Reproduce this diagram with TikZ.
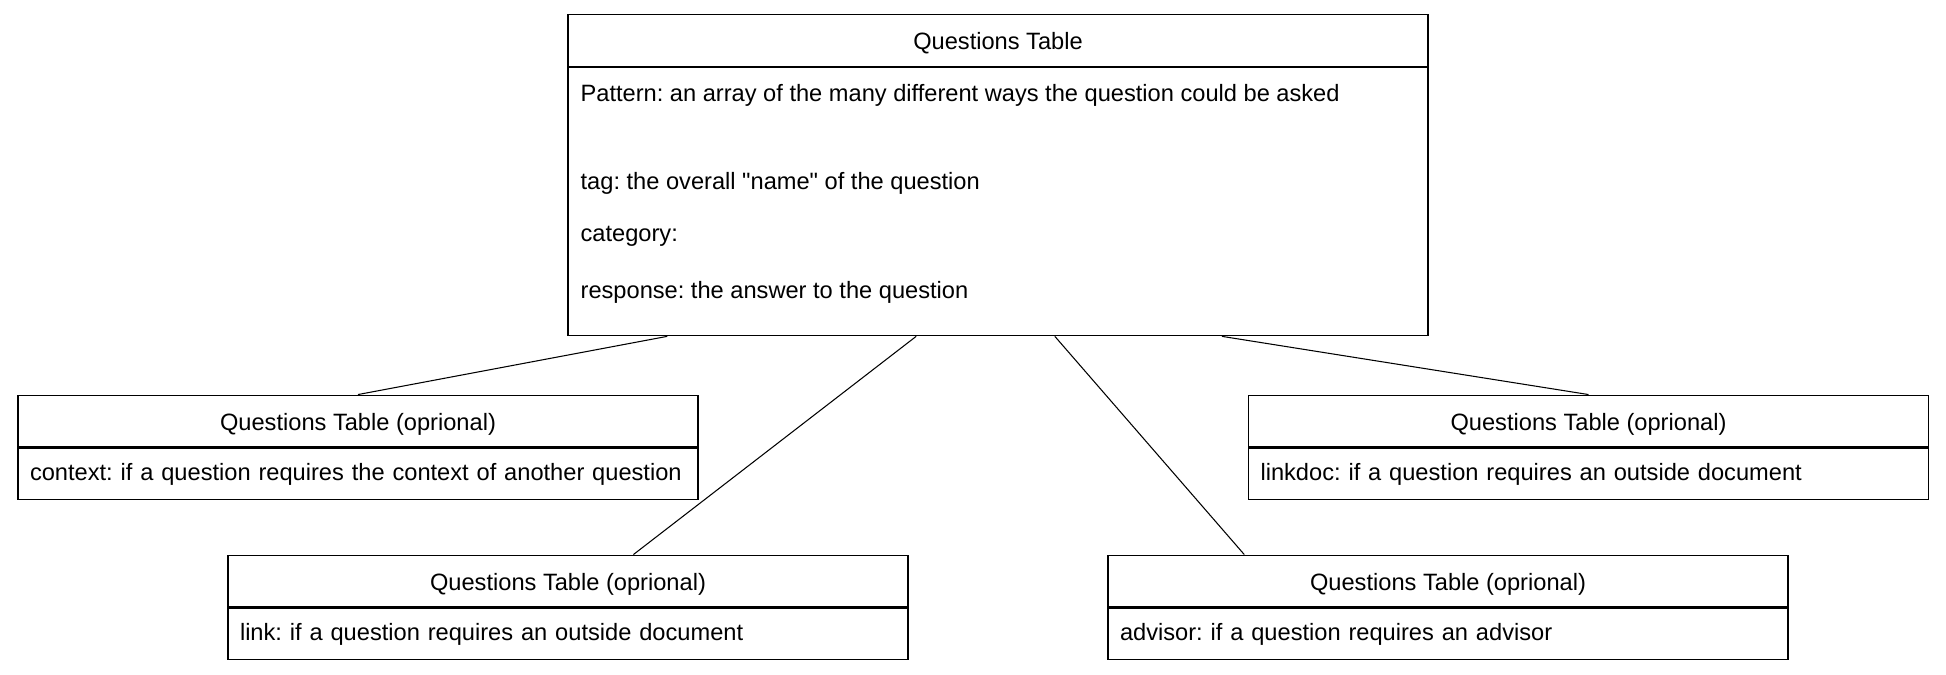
\documentclass[tikz,border=0pt]{standalone}
\usepackage{fontspec}
\setmainfont{Liberation Sans}
\usetikzlibrary{positioning, calc}
\newcommand\tblfont{\frenchspacing\fontsize{13.45pt}{29.5pt}\selectfont}

\tikzset{
  tblhead/.style={draw, line width=0.8pt, minimum height=1.03cm, inner sep=0pt, text height=0.36cm, text depth=0pt, font=\tblfont},
  tblbody/.style={draw, line width=0.8pt, minimum height=1.03cm, text width=#1, align=left, inner xsep=0.24cm, inner ysep=0pt, font=\tblfont},
  conn/.style={line width=0.6pt}
}

\begin{document}
\begin{tikzpicture}
    \useasboundingbox (0,0) rectangle (38.92,-13.48);

    % Main table
    \node[tblhead, minimum width=17.2cm] (mainhead) at (19.96, -0.81) {Questions Table};
    \node[draw, line width=0.8pt, minimum width=17.2cm, minimum height=5.36cm, below=0pt of mainhead] (mainbody) {};
    \node[font=\tblfont, align=left, inner sep=0pt, below right=0.35cm and 0.26cm of mainbody.north west] (maintext)
        {Pattern: an array of the many different ways the question could be asked\\[0.72cm]
         tag: the overall \textquotedbl name\textquotedbl{} of the question\\
         category:\\[0.1cm]
         response: the answer to the question};

    % Optional tables
    \node[tblhead, minimum width=13.6cm] (ctxhead) at (7.16, -8.42) {Questions Table (oprional)};
    \node[tblbody=13.12cm, below=0pt of ctxhead] (ctxbody) {context: if a question requires the context of another question};

    \node[tblhead, minimum width=13.6cm] (linkhead) at (11.36, -11.62) {Questions Table (oprional)};
    \node[tblbody=13.12cm, below=0pt of linkhead] (linkbody) {link: if a question requires an outside document};

    \node[tblhead, minimum width=13.6cm] (advhead) at (28.96, -11.62) {Questions Table (oprional)};
    \node[tblbody=13.12cm, below=0pt of advhead] (advbody) {advisor: if a question requires an advisor};

    \node[tblhead, minimum width=13.6cm] (dochead) at (31.77, -8.42) {Questions Table (oprional)};
    \node[tblbody=13.12cm, below=0pt of dochead] (docbody) {linkdoc: if a question requires an outside document};

    % Connectors
    \draw[conn] ($(mainbody.south west)!0.116!(mainbody.south east)$) -- (ctxhead.north);
    \draw[conn] ($(mainbody.south west)!0.405!(mainbody.south east)$) -- ($(linkhead.north west)!0.596!(linkhead.north east)$);
    \draw[conn] ($(mainbody.south west)!0.566!(mainbody.south east)$) -- ($(advhead.north west)!0.201!(advhead.north east)$);
    \draw[conn] ($(mainbody.south west)!0.760!(mainbody.south east)$) -- (dochead.north);
\end{tikzpicture}
\end{document}
